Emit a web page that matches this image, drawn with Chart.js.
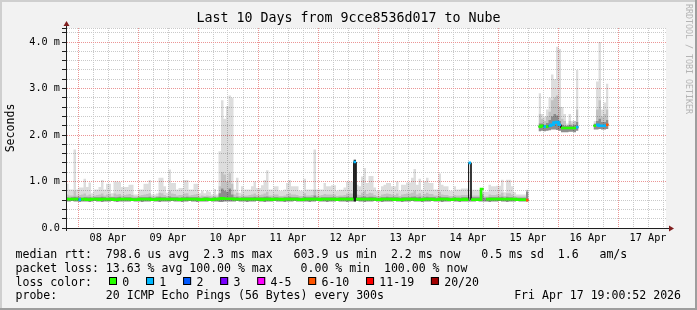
<!DOCTYPE html>
<html><head><meta charset="utf-8">
<script src="https://cdn.jsdelivr.net/npm/chart.js@4/dist/chart.umd.min.js"></script>
<style>html,body{margin:0;padding:0;background:#f2f2f2;}canvas{display:block;}</style>
</head><body>
<canvas id="c" width="697" height="310"></canvas>
<script>
const FONT = 'DejaVu Sans Mono';
const titleText = 'Last 10 Days from 9cce8536d017 to Nube';
const yAxisTitle = 'Seconds';
const dayLabels = ['08 Apr','09 Apr','10 Apr','11 Apr','12 Apr','13 Apr','14 Apr','15 Apr','16 Apr','17 Apr'];
const yTickLabels = ['0.0','1.0 m','2.0 m','3.0 m','4.0 m'];
const lossLabels = ['0','1','2','3','4-5','6-10','11-19','20/20'];
const lossColors = ['#26ff00','#00b8ff','#0059ff','#7a00ff','#ff00ff','#ff5500','#ff0000','#a10000'];
const statsLines = [
  'median rtt:  798.6 us avg  2.3 ms max   603.9 us min  2.2 ms now   0.5 ms sd  1.6   am/s',
  'packet loss: 13.63 % avg 100.00 % max    0.00 % min  100.00 % now'
];
const lossTitle = 'loss color:';
const probeLine = 'probe:       20 ICMP Echo Pings (56 Bytes) every 300s';
const dateText = 'Fri Apr 17 19:00:52 2026';
const watermark = 'RRDTOOL / TOBI OETIKER';

// hourly samples, hour 0 = left edge of the graph (10 days = 240 hours)
const smokeMax = [
0.95,0.83,0.83,1.69,0.83,0.87,0.87,1.06,0.88,0.98,0.75,0.83,0.83,0.88,1.03,0.83,0.95,0.95,0.75,1.00,1.00,0.99,0.88,0.88,
0.88,0.93,0.93,0.72,0.72,0.83,0.83,0.95,0.95,1.03,0.72,0.72,0.74,1.08,1.08,0.90,0.76,1.26,0.97,0.97,0.83,0.86,0.86,1.03,
1.03,0.83,0.83,0.95,0.95,0.75,0.80,0.75,0.80,0.78,0.72,0.84,0.72,1.65,2.75,2.35,2.62,2.85,2.80,0.83,1.08,0.76,0.90,0.83,
0.83,0.83,0.90,1.00,0.86,0.86,0.92,1.03,1.24,0.83,0.83,0.90,0.90,0.80,0.80,0.83,0.97,1.03,0.90,0.90,0.90,0.80,0.80,1.06,
0.83,0.83,0.83,1.69,0.83,0.83,0.83,0.97,0.90,0.90,0.92,0.92,0.80,0.82,0.82,0.87,1.00,1.00,1.00,1.47,0.93,0.90,1.11,1.29,
0.97,1.12,1.12,0.87,0.80,0.80,0.90,0.93,0.97,0.97,0.90,0.90,1.00,0.80,0.93,0.93,0.98,0.98,1.08,1.27,0.93,1.06,0.82,1.00,
1.08,0.97,0.97,0.83,0.83,1.17,0.93,0.90,0.90,0.80,0.80,0.90,0.83,0.83,0.85,0.85,0.85,1.42,0.82,0.82,0.82,0.82,0.86,0.78,
0.78,0.93,0.90,0.90,0.91,0.91,1.04,0.77,1.04,1.04,0.90,0.77,0.72,0.72,0.72,0.72,0.82,null,null,null,null,2.90,2.45,2.40,
2.55,2.80,3.30,3.20,3.90,3.85,2.60,2.45,2.20,2.45,2.30,2.30,3.40,null,null,null,null,null,null,2.30,3.15,4.00,2.55,2.70,
3.10,null,null,null,null,null,null,null,null,null,null,null,null,null,null,null,null,null,null,null,null,null,null,null
];
const smokeHi = [
0.72,0.70,0.70,0.80,0.70,0.71,0.72,0.74,0.70,0.72,0.68,0.70,0.71,0.72,0.74,0.70,0.72,0.73,0.68,0.74,0.72,0.73,0.70,0.71,
0.72,0.73,0.71,0.68,0.68,0.70,0.71,0.72,0.73,0.75,0.68,0.68,0.69,0.76,0.75,0.71,0.69,0.80,0.74,0.73,0.70,0.71,0.71,0.74,
0.75,0.70,0.71,0.72,0.73,0.68,0.70,0.69,0.70,0.69,0.68,0.70,0.68,0.90,1.20,1.15,1.00,1.18,0.95,0.72,0.76,0.69,0.72,0.70,
0.70,0.71,0.72,0.74,0.71,0.71,0.72,0.74,0.78,0.70,0.70,0.72,0.72,0.69,0.69,0.70,0.73,0.75,0.72,0.72,0.71,0.69,0.69,0.75,
0.70,0.70,0.71,0.82,0.70,0.70,0.71,0.73,0.72,0.72,0.72,0.72,0.69,0.70,0.70,0.71,0.74,0.74,0.74,1.47,0.72,0.71,0.76,0.80,
0.73,0.76,0.75,0.71,0.69,0.69,0.72,0.73,0.74,0.73,0.72,0.71,0.74,0.69,0.72,0.73,0.74,0.74,0.76,0.80,0.72,0.75,0.70,0.73,
0.76,0.73,0.73,0.70,0.70,0.78,0.72,0.71,0.71,0.69,0.69,0.71,0.70,0.70,0.71,0.71,0.71,0.72,0.70,0.70,0.70,0.70,0.76,0.68,
0.68,0.72,0.71,0.71,0.72,0.72,0.76,0.69,0.75,0.75,0.72,0.69,0.68,0.68,0.68,0.68,0.81,null,null,null,null,2.45,2.35,2.30,
2.40,2.50,2.75,2.80,2.85,2.60,2.35,2.30,2.25,2.30,2.25,2.30,2.55,null,null,null,null,null,null,2.25,2.55,2.75,2.40,2.45,
2.55,null,null,null,null,null,null,null,null,null,null,null,null,null,null,null,null,null,null,null,null,null,null,null
];
const smokeMid = [
0.66,0.65,0.66,0.67,0.66,0.66,0.65,0.66,0.66,0.66,0.65,0.66,0.66,0.66,0.67,0.66,0.65,0.66,0.66,0.66,0.66,0.67,0.65,0.66,
0.66,0.66,0.65,0.65,0.65,0.66,0.66,0.66,0.66,0.67,0.65,0.65,0.66,0.67,0.66,0.66,0.65,0.68,0.66,0.66,0.66,0.65,0.66,0.66,
0.67,0.66,0.66,0.66,0.66,0.65,0.65,0.66,0.66,0.65,0.65,0.66,0.65,0.75,0.85,0.80,0.78,0.85,0.72,0.66,0.67,0.65,0.66,0.66,
0.66,0.66,0.66,0.67,0.66,0.66,0.66,0.67,0.68,0.66,0.65,0.66,0.66,0.65,0.65,0.66,0.66,0.67,0.66,0.66,0.66,0.65,0.65,0.67,
0.66,0.66,0.66,0.70,0.66,0.65,0.66,0.66,0.66,0.66,0.66,0.66,0.65,0.66,0.66,0.66,0.67,0.66,0.66,0.66,0.66,0.66,0.67,0.68,
0.66,0.67,0.67,0.66,0.65,0.65,0.66,0.66,0.67,0.66,0.66,0.66,0.66,0.65,0.66,0.66,0.66,0.66,0.67,0.68,0.66,0.67,0.65,0.66,
0.67,0.66,0.66,0.66,0.65,0.68,0.66,0.66,0.66,0.65,0.65,0.66,0.65,0.65,0.66,0.66,0.66,0.66,0.66,0.66,0.66,0.66,0.72,0.65,
0.65,0.66,0.66,0.66,0.66,0.66,0.67,0.65,0.67,0.66,0.66,0.65,0.65,0.65,0.65,0.65,0.78,null,null,null,null,2.25,2.25,2.22,
2.26,2.32,2.40,2.45,2.42,2.30,2.22,2.20,2.20,2.22,2.20,2.22,2.28,null,null,null,null,null,null,2.24,2.30,2.35,2.28,2.28,
2.32,null,null,null,null,null,null,null,null,null,null,null,null,null,null,null,null,null,null,null,null,null,null,null
];
const smokeMin = [
0.57,0.57,0.58,0.57,0.57,0.56,0.57,0.57,0.57,0.56,0.57,0.58,0.57,0.57,0.56,0.57,0.57,0.57,0.58,0.57,0.56,0.57,0.57,0.57,
0.57,0.57,0.58,0.57,0.57,0.57,0.56,0.57,0.57,0.57,0.58,0.57,0.57,0.56,0.57,0.57,0.57,0.57,0.58,0.57,0.57,0.57,0.56,0.57,
0.57,0.58,0.57,0.57,0.56,0.57,0.57,0.57,0.57,0.58,0.57,0.57,0.57,0.56,0.56,0.57,0.57,0.57,0.57,0.57,0.58,0.57,0.57,0.57,
0.56,0.57,0.57,0.57,0.58,0.57,0.57,0.56,0.57,0.57,0.57,0.58,0.57,0.57,0.57,0.56,0.57,0.57,0.57,0.58,0.57,0.57,0.57,0.57,
0.57,0.56,0.57,0.57,0.58,0.57,0.57,0.57,0.56,0.57,0.57,0.57,0.58,0.57,0.57,0.57,0.56,0.57,0.57,0.57,0.58,0.57,0.57,0.56,
0.57,0.57,0.57,0.58,0.57,0.57,0.56,0.57,0.57,0.57,0.57,0.58,0.57,0.57,0.56,0.57,0.57,0.57,0.58,0.57,0.57,0.57,0.56,0.57,
0.57,0.57,0.58,0.57,0.57,0.57,0.56,0.57,0.57,0.57,0.58,0.57,0.57,0.56,0.57,0.57,0.57,0.57,0.57,0.57,0.58,0.57,0.57,0.57,
0.57,0.56,0.57,0.57,0.57,0.58,0.57,0.57,0.56,0.57,0.57,0.57,0.58,0.57,0.57,0.57,0.57,null,null,null,null,2.08,2.09,2.08,
2.09,2.10,2.12,2.12,2.11,2.09,2.06,2.06,2.06,2.07,2.07,2.06,2.09,null,null,null,null,null,null,2.12,2.12,2.13,2.12,2.12,
2.13,null,null,null,null,null,null,null,null,null,null,null,null,null,null,null,null,null,null,null,null,null,null,null
];
const medianRtt = [
0.62,0.62,0.62,0.62,0.62,0.61,0.62,0.62,0.61,0.61,0.62,0.62,0.62,0.61,0.62,0.62,0.62,0.62,0.62,0.61,0.61,0.62,0.62,0.62,
0.62,0.62,0.61,0.61,0.61,0.62,0.62,0.62,0.62,0.62,0.61,0.61,0.62,0.62,0.62,0.62,0.62,0.62,0.62,0.62,0.62,0.61,0.62,0.62,
0.62,0.62,0.62,0.62,0.62,0.61,0.61,0.62,0.62,0.61,0.61,0.62,0.62,0.63,0.64,0.63,0.63,0.63,0.63,0.62,0.62,0.62,0.62,0.62,
0.62,0.62,0.62,0.62,0.62,0.62,0.61,0.62,0.62,0.62,0.61,0.62,0.62,0.62,0.61,0.62,0.62,0.62,0.62,0.62,0.62,0.61,0.61,0.62,
0.62,0.62,0.62,0.62,0.62,0.61,0.62,0.62,0.62,0.62,0.62,0.62,0.61,0.62,0.62,0.62,0.62,0.62,0.62,1.42,0.62,0.62,0.62,0.62,
0.62,0.62,0.62,0.62,0.61,0.61,0.62,0.62,0.62,0.62,0.62,0.61,0.62,0.61,0.61,0.62,0.62,0.62,0.62,0.62,0.61,0.61,0.61,0.62,
0.62,0.62,0.62,0.61,0.61,0.62,0.62,0.62,0.62,0.61,0.61,0.62,0.62,0.61,0.61,0.62,0.61,1.40,0.61,0.61,0.61,0.61,0.84,null,
0.62,0.62,0.62,0.62,0.62,0.62,0.62,0.62,0.62,0.62,0.62,0.62,0.61,0.61,0.61,0.61,0.60,null,null,null,null,2.18,2.20,2.18,
2.18,2.20,2.22,2.27,2.28,2.22,2.15,2.15,2.15,2.15,2.15,2.15,2.17,null,null,null,null,null,null,2.20,2.22,2.20,2.20,2.20,
2.22,null,null,null,null,null,null,null,null,null,null,null,null,null,null,null,null,null,null,null,null,null,null,null
];
// index into lossColors for every hour
const lossIdx = [
0,0,0,0,0,1,0,0,0,0,0,0,0,0,0,0,0,0,0,0,0,0,0,0,
0,0,0,0,0,0,0,0,0,0,0,0,0,0,0,0,0,0,0,0,0,0,0,0,
0,0,0,0,0,0,0,0,0,0,0,0,0,0,0,0,0,0,0,0,0,0,0,0,
0,0,0,0,0,0,0,0,0,0,0,0,0,0,0,0,0,0,0,0,0,0,0,0,
0,0,0,0,0,0,0,0,0,0,0,0,0,0,0,0,0,0,0,1,0,0,0,0,
0,0,0,0,0,0,0,0,0,0,0,0,0,0,0,0,0,0,0,0,0,0,0,0,
0,0,0,0,0,0,0,0,0,0,0,0,0,0,0,0,0,1,0,0,0,0,0,null,
0,0,0,0,0,0,0,0,0,0,0,0,0,0,0,0,5,null,null,null,null,0,0,1,
0,1,1,1,1,1,0,0,0,0,0,0,1,null,null,null,null,null,null,0,1,1,1,1,
5,null,null,null,null,null,null,null,null,null,null,null,null,null,null,null,null,null,null,null,null,null,null,null
];
// very dense smoke column (all pings spread)
const denseHours = [115];
const denseTop = [1.47];

const X_MAX = 240;          // hours shown
const FIRST_MIDNIGHT = 4.8; // hours from left edge to 08 Apr 00:00
const Y_MAX = 4.3011;

function stepPoints(values) {
  const pts = [];
  values.forEach((v, h) => {
    if (v === null) pts.push({x: h + 0.5, y: null});
    else pts.push({x: h, y: v}, {x: h + 1, y: v});
  });
  return pts;
}
function sparseStepPoints(hours, values) {
  const pts = [];
  hours.forEach((h, i) => { pts.push({x: h, y: values[i]}, {x: h + 1, y: values[i]}, {x: h + 1.5, y: null}); });
  return pts;
}
function lossPoints(cat) {
  const pts = [];
  medianRtt.forEach((v, h) => {
    if (v !== null && lossIdx[h] === cat) pts.push({x: h, y: v}, {x: h + 1, y: v});
    else pts.push({x: h + 0.5, y: null});
  });
  return pts;
}

const base = {pointRadius: 0, tension: 0, borderWidth: 0, fill: false};
const datasets = [
  Object.assign({}, base, {label: 'min', data: stepPoints(smokeMin), order: 20}),
  Object.assign({}, base, {label: 'max', data: stepPoints(smokeMax), fill: {target: 0}, backgroundColor: 'rgba(0,0,0,0.133)', order: 19}),
  Object.assign({}, base, {label: 'hi', data: stepPoints(smokeHi), fill: {target: 0}, backgroundColor: 'rgba(0,0,0,0.122)', order: 18}),
  Object.assign({}, base, {label: 'mid', data: stepPoints(smokeMid), fill: {target: 0}, backgroundColor: 'rgba(0,0,0,0.27)', order: 17}),
  Object.assign({}, base, {label: 'dense', data: sparseStepPoints(denseHours, denseTop), fill: {target: 0}, backgroundColor: 'rgba(0,0,0,0.8)', order: 16}),
  Object.assign({}, base, {label: 'median', data: stepPoints(medianRtt), borderColor: '#1f1f1f', borderWidth: 1, order: 15})
];
lossColors.forEach((c, i) => {
  datasets.push(Object.assign({}, base, {label: lossLabels[i], data: lossPoints(i), borderColor: c, borderWidth: 2.6, borderCapStyle: 'butt', borderJoinStyle: 'miter', order: 10 - i}));
});

const xTicks = [];
for (let t = FIRST_MIDNIGHT; t < X_MAX; t += 6) xTicks.push(t);
const yTicks = [];
for (let k = 0; k <= 21; k++) yTicks.push(k * 0.2);
yTicks.push(Y_MAX);

const GRID = '#c9c9c9';
const MGRID = '#eb9595';

const framePlugin = {
  id: 'frame',
  beforeDraw(chart) {
    const {ctx, width, height, chartArea: a} = chart;
    ctx.save();
    ctx.fillStyle = '#f2f2f2'; ctx.fillRect(0, 0, width, height);
    ctx.fillStyle = '#ffffff'; ctx.fillRect(a.left, a.top, a.right - a.left, a.bottom - a.top);
    ctx.fillStyle = '#cfcfcf'; ctx.fillRect(0, 0, width, 2); ctx.fillRect(0, 0, 2, height);
    ctx.fillStyle = '#9e9e9e'; ctx.fillRect(0, height - 2, width, 2); ctx.fillRect(width - 2, 0, 2, height);
    ctx.restore();
  },
  afterDraw(chart) {
    const {ctx, chartArea: a} = chart;
    const ax = a.left + 0.5, ay = a.bottom + 0.5;
    ctx.save();
    ctx.strokeStyle = '#1f1f1f'; ctx.lineWidth = 1;
    ctx.beginPath();
    ctx.moveTo(a.left - 4, ay); ctx.lineTo(a.right + 3, ay);
    ctx.moveTo(ax, a.bottom + 3); ctx.lineTo(ax, a.top - 3);
    ctx.stroke();
    ctx.fillStyle = '#801f1f';
    ctx.beginPath(); ctx.moveTo(ax, a.top - 7); ctx.lineTo(ax - 3, a.top - 2); ctx.lineTo(ax + 3, a.top - 2); ctx.closePath(); ctx.fill();
    ctx.beginPath(); ctx.moveTo(a.right + 8, ay); ctx.lineTo(a.right + 3, ay - 3); ctx.lineTo(a.right + 3, ay + 3); ctx.closePath(); ctx.fill();
    // footer legend
    const cw = 6.95, x0 = 15.5;
    const rows = [257.5, 271.5, 285.5, 299];
    ctx.fillStyle = '#000';
    ctx.font = '11.55px "' + FONT + '"';
    ctx.textBaseline = 'alphabetic';
    ctx.textAlign = 'left';
    ctx.fillText(statsLines[0], x0, rows[0]);
    ctx.fillText(statsLines[1], x0, rows[1]);
    ctx.fillText(lossTitle, x0, rows[2]);
    let bx = 109;
    lossLabels.forEach((lab, i) => {
      ctx.fillStyle = lossColors[i];
      ctx.fillRect(bx, 277, 8, 8);
      ctx.strokeStyle = '#000';
      ctx.strokeRect(bx + 0.5, 277.5, 7, 7);
      ctx.fillStyle = '#000';
      ctx.fillText(lab, bx + 13.3, rows[2]);
      bx += 30.1 + cw * lab.length;
    });
    ctx.fillText(probeLine, x0, rows[3]);
    ctx.textAlign = 'right';
    ctx.fillText(dateText, 681, rows[3]);
    // watermark
    ctx.save();
    ctx.translate(688.5, 4);
    ctx.rotate(Math.PI / 2);
    ctx.textAlign = 'left';
    ctx.textBaseline = 'middle';
    ctx.fillStyle = '#b4b4b4';
    ctx.font = '8.3px "' + FONT + '"';
    ctx.fillText(watermark, 0, 0);
    ctx.restore();
    ctx.restore();
  }
};

Chart.defaults.font.family = FONT;
Chart.defaults.color = '#000';

new Chart(document.getElementById('c'), {
  type: 'line',
  data: {datasets},
  options: {
    responsive: false,
    animation: false,
    devicePixelRatio: 1,
    events: [],
    layout: {padding: {left: 0, right: 0, top: 0, bottom: 60}, autoPadding: false},
    plugins: {
      legend: {display: false},
      tooltip: {enabled: false},
      title: {display: true, text: titleText, color: '#000',
        font: {family: FONT, size: 13.3, weight: 'normal', lineHeight: '16px'},
        padding: {top: 11, bottom: 1}}
    },
    scales: {
      x: {
        type: 'linear', min: 0, max: X_MAX, position: 'bottom',
        afterBuildTicks: s => { s.ticks = xTicks.map(v => ({value: v})); },
        afterFit: s => { s.height = 22; },
        grid: {drawTicks: false, lineWidth: 1,
          color: c => (Math.round((c.tick.value - FIRST_MIDNIGHT) / 6) % 4 === 0 ? MGRID : GRID)},
        border: {z: 1, color: '#1f1f1f', dash: [1, 1]},
        ticks: {autoSkip: false, maxRotation: 0, minRotation: 0, padding: 4,
          font: {family: FONT, size: 10.2}, color: '#000',
          callback: (v, i) => (i % 4 === 2 ? dayLabels[(i - 2) / 4] : '')}
      },
      y: {
        type: 'linear', min: 0, max: Y_MAX, position: 'left',
        afterBuildTicks: s => { s.ticks = yTicks.map(v => ({value: v})); },
        afterFit: s => { s.width = 66; },
        grid: {drawTicks: true, tickLength: 4, tickColor: '#1f1f1f', lineWidth: 1,
          color: c => { const v = Math.round(c.tick.value * 10) / 10; return (v > 0 && v <= 4 && Math.abs(v - Math.round(v)) < 0.01) ? MGRID : GRID; }},
        border: {z: 1, color: '#1f1f1f', dash: [1, 1]},
        ticks: {autoSkip: false, padding: 2, font: {family: FONT, size: 10.2}, color: '#000',
          callback: v => { const r = Math.round(v * 10) / 10; return (Math.abs(r - Math.round(r)) < 0.01 && r <= 4 && v < Y_MAX - 0.01) ? yTickLabels[Math.round(r)] : ''; }},
        title: {display: true, text: yAxisTitle, color: '#000', font: {family: FONT, size: 11.55, lineHeight: '14px'}, padding: {top: 4, bottom: 0}}
      },
      yr: {
        type: 'linear', position: 'right', display: true,
        grid: {display: false}, border: {display: false}, ticks: {display: false},
        afterFit: s => { s.width = 31; }
      }
    }
  },
  plugins: [framePlugin]
});
</script>
</body></html>
